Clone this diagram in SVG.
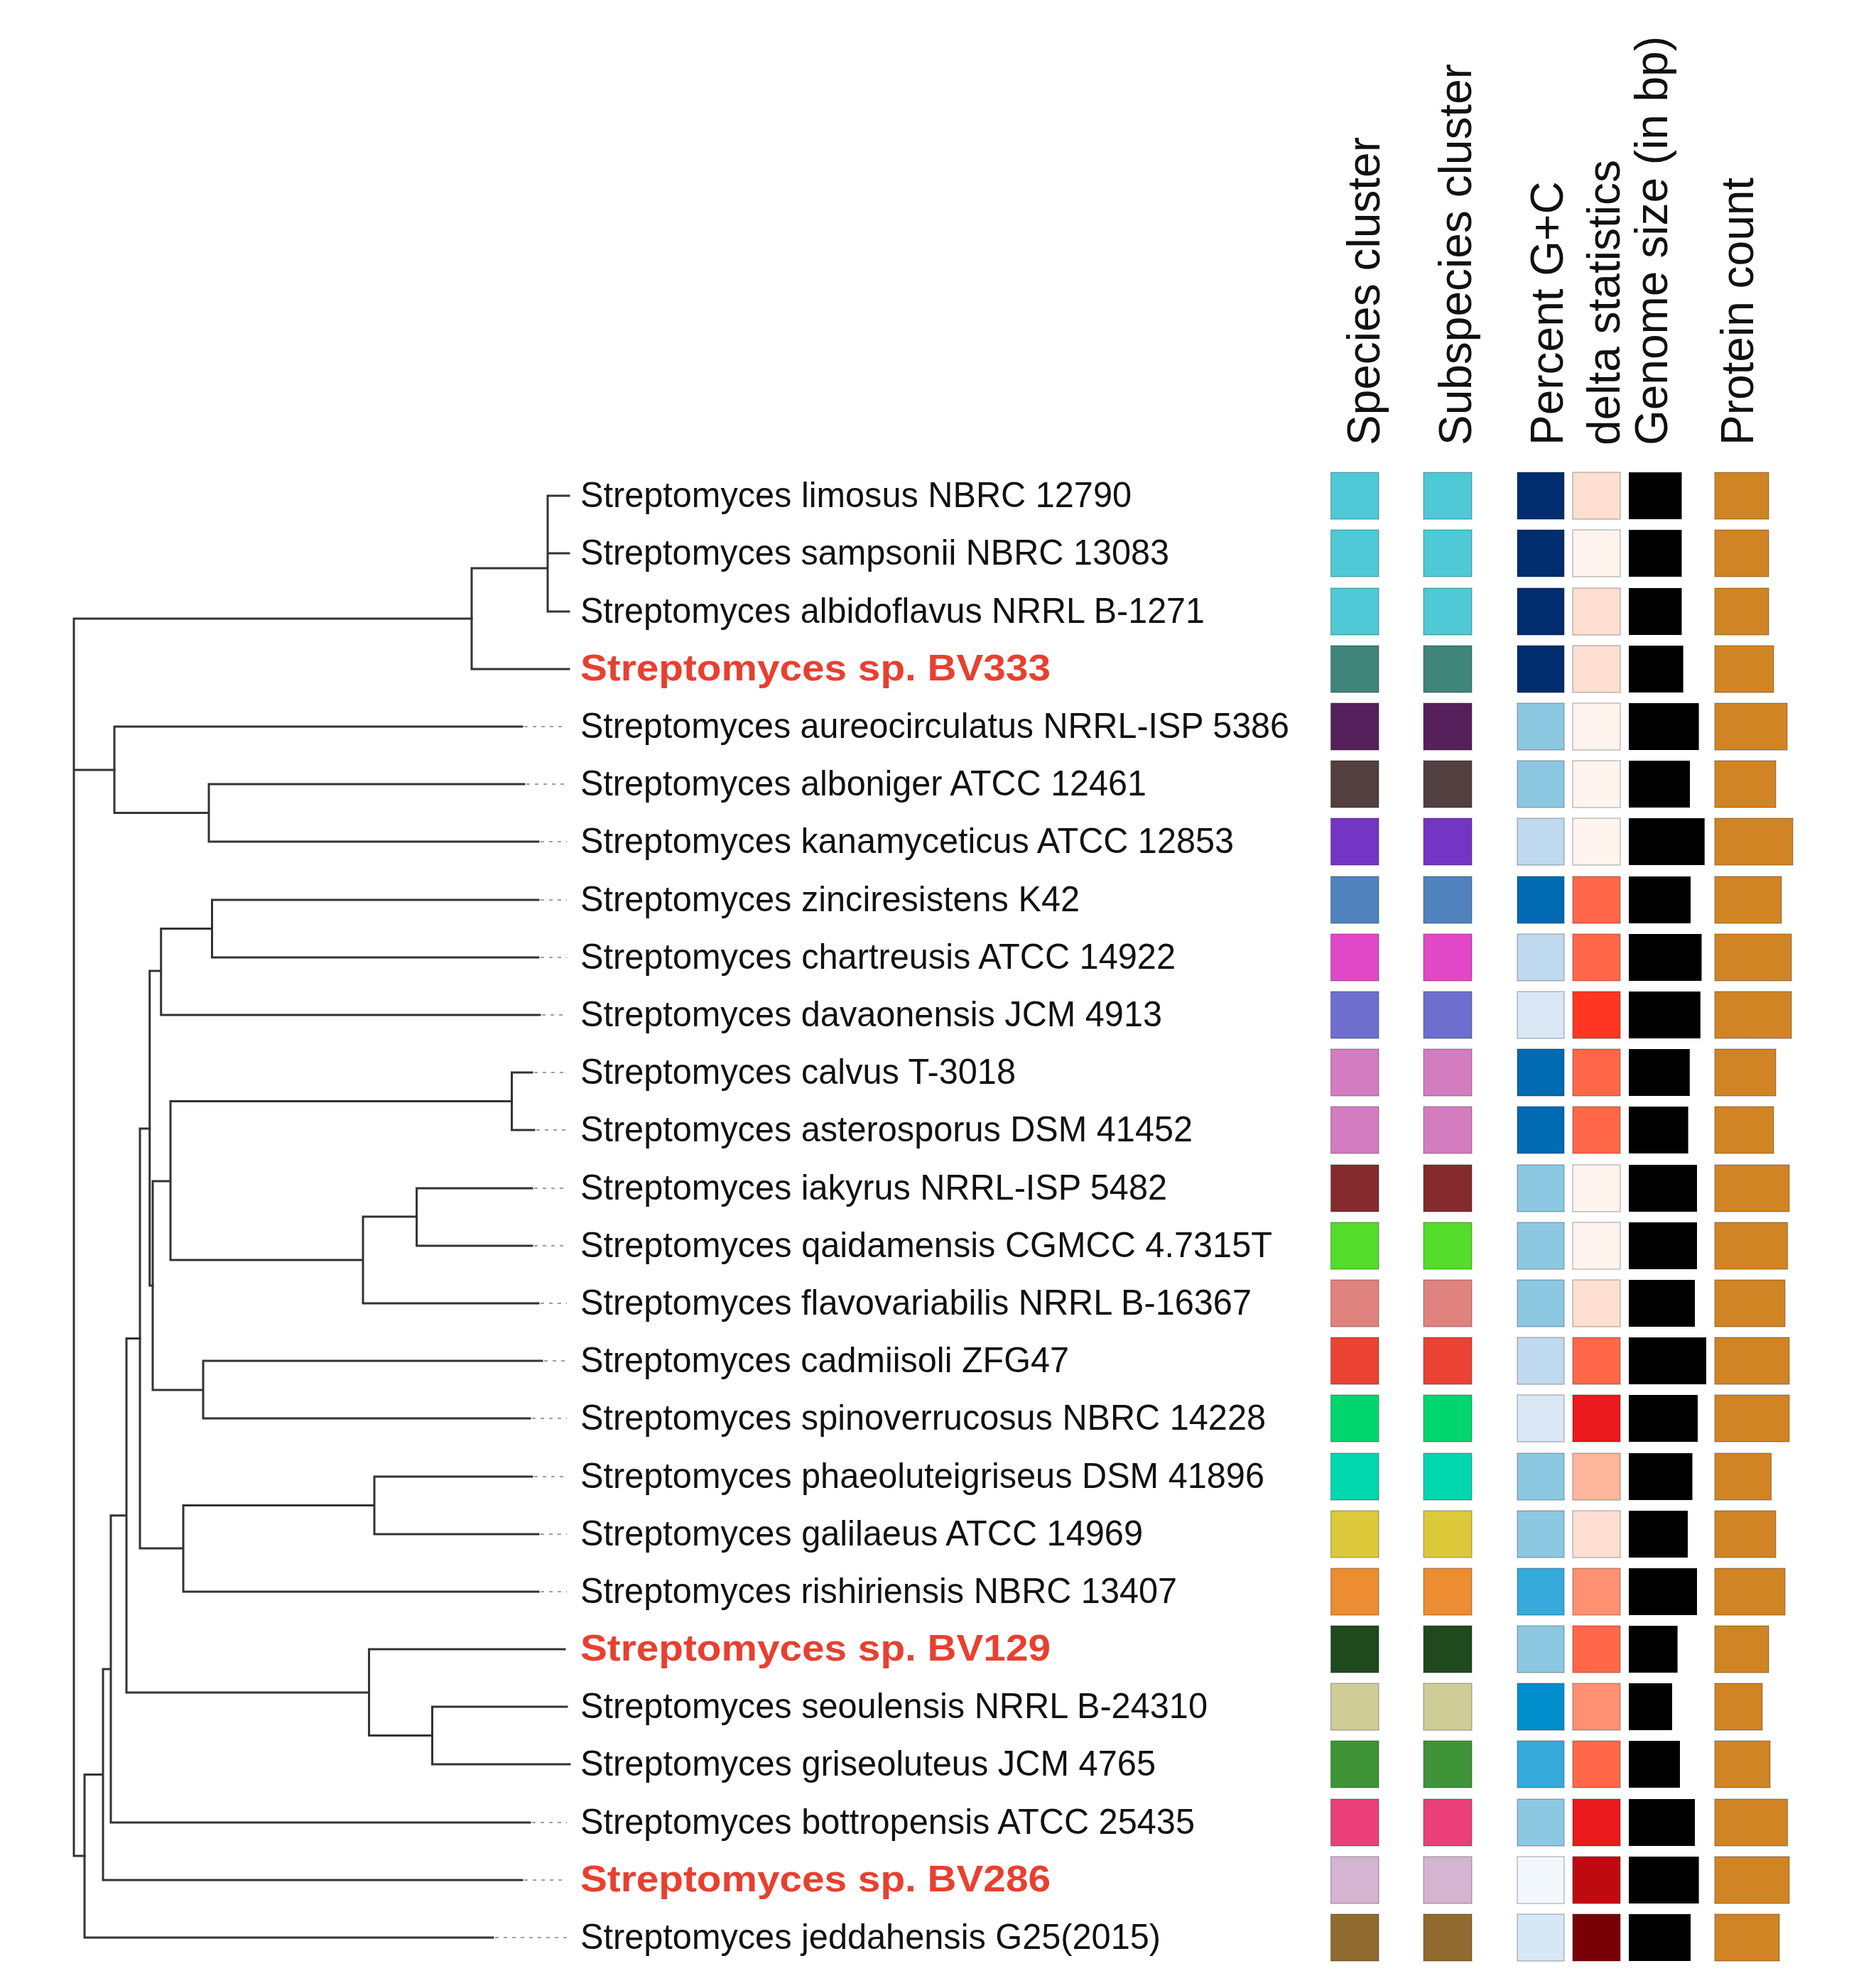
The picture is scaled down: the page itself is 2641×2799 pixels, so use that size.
<svg xmlns="http://www.w3.org/2000/svg" width="2641" height="2799" viewBox="0 0 2641 2799">
<style>
.bg{fill:#ffffff}
.br{stroke:#333;stroke-width:3;fill:none;stroke-linecap:square}
.dt{stroke:#a0a0a0;stroke-width:2;stroke-dasharray:5 7;fill:none}
.lb{font-family:"Liberation Sans",Arial,sans-serif;font-size:50px;fill:#111}
.lr{font-family:"Liberation Sans",Arial,sans-serif;font-size:52px;font-weight:bold;fill:#E8402F}
.hd{font-family:"Liberation Sans",Arial,sans-serif;font-size:64px;fill:#111}
.sq{stroke:#000;stroke-opacity:0.25;stroke-width:1.5}
.gs{fill:#000}
.pc{fill:#D18424}
</style>
<rect class="bg" x="0" y="0" width="2641" height="2799"/>

<g id="headers">
<text class="hd" transform="translate(1942,627) rotate(-90)">Species cluster</text>
<text class="hd" transform="translate(2071,627) rotate(-90)">Subspecies cluster</text>
<text class="hd" transform="translate(2200,627) rotate(-90)">Percent G+C</text>
<text class="hd" transform="translate(2280,627) rotate(-90)">delta statistics</text>
<text class="hd" transform="translate(2347,627) rotate(-90)">Genome size (in bp)</text>
<text class="hd" transform="translate(2468,627) rotate(-90)">Protein count</text>
</g>

<g id="connectors">
<!-- root -->
<path class="br" d="M104 871V2613M104 871H664M104 1084H161M104 2613H119"/>
<!-- clade A -->
<path class="br" d="M664 800V942M664 800H771M664 942H801M771 698V861M771 698H801M771 779H801M771 861H801"/>
<!-- clade B -->
<path class="br" d="M161 1023V1144.5M161 1023H735M161 1144.5H294M294 1104V1185M294 1104H738M294 1185H758"/>
<!-- clade X -->
<path class="br" d="M119 2498.5V2728M119 2728H694M119 2498.5H145M145 2350V2647M145 2647H735M145 2350H156M156 2133.7V2566M156 2566H746M156 2133.7H178M178 1884.5V2383M178 1884.5H197M178 2383H519.5M519.5 2322V2443.5M519.5 2322H795M519.5 2443.5H608.5M608.5 2403V2484M608.5 2403H798M608.5 2484H802"/>
<path class="br" d="M197 1589V2180M197 1589H210.7M197 2180H258M258 2119.5V2241M258 2241H758M258 2119.5H527M527 2079V2160M527 2079H749M527 2160H758"/>
<path class="br" d="M210.7 1367V1810M210.7 1367H226.7M210.7 1810H215M226.7 1307.5V1429M226.7 1429H760M226.7 1307.5H298.5M298.5 1267V1348M298.5 1267H758M298.5 1348H758"/>
<path class="br" d="M215 1663V1957M215 1663H240M215 1957H286M240 1550.5V1774M240 1550.5H720.5M240 1774H511M720.5 1510V1591M720.5 1510H749M720.5 1591H752M511 1713V1835M511 1713H586.6M511 1835H758M586.6 1673V1754M586.6 1673H749M586.6 1754H749M286 1916V1997M286 1916H763M286 1997H746"/>
<!-- dotted leaders -->
<path class="dt" d="M738 1023H798M741 1104H798M761 1185H798M761 1267H798M761 1348H798M763 1429H798M752 1510H798M755 1591H798M752 1673H798M752 1754H798M761 1835H798M766 1916H798M749 1997H798M752 2079H798M761 2160H798M761 2241H798M749 2566H798M738 2647H798M697 2728H798"/>
</g>

<g id="leaves">
<g id="n1"><text class="lb" x="817" y="714" textLength="776" lengthAdjust="spacingAndGlyphs">Streptomyces limosus NBRC 12790</text>
<rect class="sq" x="1873.5" y="665" width="67.5" height="66" fill="#4FC9D6"/><rect class="sq" x="2004" y="665" width="68" height="66" fill="#4FC9D6"/><rect class="sq" x="2136" y="665" width="66" height="66" fill="#002D6E"/><rect class="sq" x="2214" y="665" width="67" height="66" fill="#FEDFD2"/><rect class="gs" x="2293" y="665" width="74.5" height="66"/><rect class="pc sq" x="2414" y="665" width="76" height="66"/></g>

<g id="n2"><text class="lb" x="817" y="795" textLength="829" lengthAdjust="spacingAndGlyphs">Streptomyces sampsonii NBRC 13083</text>
<rect class="sq" x="1873.5" y="746" width="67.5" height="66" fill="#4FC9D6"/><rect class="sq" x="2004" y="746" width="68" height="66" fill="#4FC9D6"/><rect class="sq" x="2136" y="746" width="66" height="66" fill="#002D6E"/><rect class="sq" x="2214" y="746" width="67" height="66" fill="#FFF3EE"/><rect class="gs" x="2293" y="746" width="74.5" height="66"/><rect class="pc sq" x="2414" y="746" width="76" height="66"/></g>

<g id="n3"><text class="lb" x="817" y="877" textLength="879" lengthAdjust="spacingAndGlyphs">Streptomyces albidoflavus NRRL B-1271</text>
<rect class="sq" x="1873.5" y="828" width="67.5" height="66" fill="#4FC9D6"/><rect class="sq" x="2004" y="828" width="68" height="66" fill="#4FC9D6"/><rect class="sq" x="2136" y="828" width="66" height="66" fill="#002D6E"/><rect class="sq" x="2214" y="828" width="67" height="66" fill="#FEDFD2"/><rect class="gs" x="2293" y="828" width="74.5" height="66"/><rect class="pc sq" x="2414" y="828" width="76" height="66"/></g>

<g id="n4"><text class="lr" x="817" y="958" textLength="662" lengthAdjust="spacingAndGlyphs">Streptomyces sp. BV333</text>
<rect class="sq" x="1873.5" y="909" width="67.5" height="66" fill="#3F857A"/><rect class="sq" x="2004" y="909" width="68" height="66" fill="#3F857A"/><rect class="sq" x="2136" y="909" width="66" height="66" fill="#002D6E"/><rect class="sq" x="2214" y="909" width="67" height="66" fill="#FEDFD2"/><rect class="gs" x="2293" y="909" width="76.6" height="66"/><rect class="pc sq" x="2414" y="909" width="83" height="66"/></g>

<g id="n5"><text class="lb" x="817" y="1039" textLength="998" lengthAdjust="spacingAndGlyphs">Streptomyces aureocirculatus NRRL-ISP 5386</text>
<rect class="sq" x="1873.5" y="990" width="67.5" height="66" fill="#55205C"/><rect class="sq" x="2004" y="990" width="68" height="66" fill="#55205C"/><rect class="sq" x="2136" y="990" width="66" height="66" fill="#8CC8E2"/><rect class="sq" x="2214" y="990" width="67" height="66" fill="#FFF4EE"/><rect class="gs" x="2293" y="990" width="98.6" height="66"/><rect class="pc sq" x="2414" y="990" width="102" height="66"/></g>

<g id="n6"><text class="lb" x="817" y="1120" textLength="797" lengthAdjust="spacingAndGlyphs">Streptomyces alboniger ATCC 12461</text>
<rect class="sq" x="1873.5" y="1071" width="67.5" height="66" fill="#523F3F"/><rect class="sq" x="2004" y="1071" width="68" height="66" fill="#523F3F"/><rect class="sq" x="2136" y="1071" width="66" height="66" fill="#8CC8E2"/><rect class="sq" x="2214" y="1071" width="67" height="66" fill="#FFF4EE"/><rect class="gs" x="2293" y="1071" width="86" height="66"/><rect class="pc sq" x="2414" y="1071" width="86" height="66"/></g>

<g id="n7"><text class="lb" x="817" y="1201" textLength="920" lengthAdjust="spacingAndGlyphs">Streptomyces kanamyceticus ATCC 12853</text>
<rect class="sq" x="1873.5" y="1152" width="67.5" height="66" fill="#7535C4"/><rect class="sq" x="2004" y="1152" width="68" height="66" fill="#7535C4"/><rect class="sq" x="2136" y="1152" width="66" height="66" fill="#BFDAEE"/><rect class="sq" x="2214" y="1152" width="67" height="66" fill="#FFF4EE"/><rect class="gs" x="2293" y="1152" width="106.7" height="66"/><rect class="pc sq" x="2414" y="1152" width="110" height="66"/></g>

<g id="n8"><text class="lb" x="817" y="1283" textLength="703" lengthAdjust="spacingAndGlyphs">Streptomyces zinciresistens K42</text>
<rect class="sq" x="1873.5" y="1234" width="67.5" height="66" fill="#5083BE"/><rect class="sq" x="2004" y="1234" width="68" height="66" fill="#5083BE"/><rect class="sq" x="2136" y="1234" width="66" height="66" fill="#006AB2"/><rect class="sq" x="2214" y="1234" width="67" height="66" fill="#FF6748"/><rect class="gs" x="2293" y="1234" width="87" height="66"/><rect class="pc sq" x="2414" y="1234" width="94" height="66"/></g>

<g id="n9"><text class="lb" x="817" y="1364" textLength="838" lengthAdjust="spacingAndGlyphs">Streptomyces chartreusis ATCC 14922</text>
<rect class="sq" x="1873.5" y="1315" width="67.5" height="66" fill="#E048C8"/><rect class="sq" x="2004" y="1315" width="68" height="66" fill="#E048C8"/><rect class="sq" x="2136" y="1315" width="66" height="66" fill="#BFDAEE"/><rect class="sq" x="2214" y="1315" width="67" height="66" fill="#FF6748"/><rect class="gs" x="2293" y="1315" width="102.5" height="66"/><rect class="pc sq" x="2414" y="1315" width="108" height="66"/></g>

<g id="n10"><text class="lb" x="817" y="1445" textLength="819" lengthAdjust="spacingAndGlyphs">Streptomyces davaonensis JCM 4913</text>
<rect class="sq" x="1873.5" y="1396" width="67.5" height="66" fill="#6E6ECF"/><rect class="sq" x="2004" y="1396" width="68" height="66" fill="#6E6ECF"/><rect class="sq" x="2136" y="1396" width="66" height="66" fill="#DAE8F6"/><rect class="sq" x="2214" y="1396" width="67" height="66" fill="#FF3622"/><rect class="gs" x="2293" y="1396" width="100.8" height="66"/><rect class="pc sq" x="2414" y="1396" width="108" height="66"/></g>

<g id="n11"><text class="lb" x="817" y="1526" textLength="613" lengthAdjust="spacingAndGlyphs">Streptomyces calvus T-3018</text>
<rect class="sq" x="1873.5" y="1477" width="67.5" height="66" fill="#D37DC0"/><rect class="sq" x="2004" y="1477" width="68" height="66" fill="#D37DC0"/><rect class="sq" x="2136" y="1477" width="66" height="66" fill="#006AB2"/><rect class="sq" x="2214" y="1477" width="67" height="66" fill="#FF6748"/><rect class="gs" x="2293" y="1477" width="85.8" height="66"/><rect class="pc sq" x="2414" y="1477" width="86" height="66"/></g>

<g id="n12"><text class="lb" x="817" y="1607" textLength="862" lengthAdjust="spacingAndGlyphs">Streptomyces asterosporus DSM 41452</text>
<rect class="sq" x="1873.5" y="1558" width="67.5" height="66" fill="#D37DC0"/><rect class="sq" x="2004" y="1558" width="68" height="66" fill="#D37DC0"/><rect class="sq" x="2136" y="1558" width="66" height="66" fill="#006AB2"/><rect class="sq" x="2214" y="1558" width="67" height="66" fill="#FF6748"/><rect class="gs" x="2293" y="1558" width="83.6" height="66"/><rect class="pc sq" x="2414" y="1558" width="83" height="66"/></g>

<g id="n13"><text class="lb" x="817" y="1689" textLength="826" lengthAdjust="spacingAndGlyphs">Streptomyces iakyrus NRRL-ISP 5482</text>
<rect class="sq" x="1873.5" y="1640" width="67.5" height="66" fill="#862B2D"/><rect class="sq" x="2004" y="1640" width="68" height="66" fill="#862B2D"/><rect class="sq" x="2136" y="1640" width="66" height="66" fill="#8CC8E2"/><rect class="sq" x="2214" y="1640" width="67" height="66" fill="#FFF4EE"/><rect class="gs" x="2293" y="1640" width="96" height="66"/><rect class="pc sq" x="2414" y="1640" width="105" height="66"/></g>

<g id="n14"><text class="lb" x="817" y="1770" textLength="974" lengthAdjust="spacingAndGlyphs">Streptomyces qaidamensis CGMCC 4.7315T</text>
<rect class="sq" x="1873.5" y="1721" width="67.5" height="66" fill="#54DC2A"/><rect class="sq" x="2004" y="1721" width="68" height="66" fill="#54DC2A"/><rect class="sq" x="2136" y="1721" width="66" height="66" fill="#8CC8E2"/><rect class="sq" x="2214" y="1721" width="67" height="66" fill="#FFF4EE"/><rect class="gs" x="2293" y="1721" width="96" height="66"/><rect class="pc sq" x="2414" y="1721" width="102.6" height="66"/></g>

<g id="n15"><text class="lb" x="817" y="1851" textLength="945" lengthAdjust="spacingAndGlyphs">Streptomyces flavovariabilis NRRL B-16367</text>
<rect class="sq" x="1873.5" y="1802" width="67.5" height="66" fill="#E0837E"/><rect class="sq" x="2004" y="1802" width="68" height="66" fill="#E0837E"/><rect class="sq" x="2136" y="1802" width="66" height="66" fill="#8CC8E2"/><rect class="sq" x="2214" y="1802" width="67" height="66" fill="#FEDFD2"/><rect class="gs" x="2293" y="1802" width="93" height="66"/><rect class="pc sq" x="2414" y="1802" width="99" height="66"/></g>

<g id="n16"><text class="lb" x="817" y="1932" textLength="688" lengthAdjust="spacingAndGlyphs">Streptomyces cadmiisoli ZFG47</text>
<rect class="sq" x="1873.5" y="1883" width="67.5" height="66" fill="#EB4333"/><rect class="sq" x="2004" y="1883" width="68" height="66" fill="#EB4333"/><rect class="sq" x="2136" y="1883" width="66" height="66" fill="#BFDAEE"/><rect class="sq" x="2214" y="1883" width="67" height="66" fill="#FF6748"/><rect class="gs" x="2293" y="1883" width="109" height="66"/><rect class="pc sq" x="2414" y="1883" width="105" height="66"/></g>

<g id="n17"><text class="lb" x="817" y="2013" textLength="965" lengthAdjust="spacingAndGlyphs">Streptomyces spinoverrucosus NBRC 14228</text>
<rect class="sq" x="1873.5" y="1964" width="67.5" height="66" fill="#00D66E"/><rect class="sq" x="2004" y="1964" width="68" height="66" fill="#00D66E"/><rect class="sq" x="2136" y="1964" width="66" height="66" fill="#DAE8F6"/><rect class="sq" x="2214" y="1964" width="67" height="66" fill="#EB1A1C"/><rect class="gs" x="2293" y="1964" width="97" height="66"/><rect class="pc sq" x="2414" y="1964" width="105" height="66"/></g>

<g id="n18"><text class="lb" x="817" y="2095" textLength="963" lengthAdjust="spacingAndGlyphs">Streptomyces phaeoluteigriseus DSM 41896</text>
<rect class="sq" x="1873.5" y="2046" width="67.5" height="66" fill="#00D7AE"/><rect class="sq" x="2004" y="2046" width="68" height="66" fill="#00D7AE"/><rect class="sq" x="2136" y="2046" width="66" height="66" fill="#8CC8E2"/><rect class="sq" x="2214" y="2046" width="67" height="66" fill="#FEB69C"/><rect class="gs" x="2293" y="2046" width="89.5" height="66"/><rect class="pc sq" x="2414" y="2046" width="79.6" height="66"/></g>

<g id="n19"><text class="lb" x="817" y="2176" textLength="792" lengthAdjust="spacingAndGlyphs">Streptomyces galilaeus ATCC 14969</text>
<rect class="sq" x="1873.5" y="2127" width="67.5" height="66" fill="#DCC93A"/><rect class="sq" x="2004" y="2127" width="68" height="66" fill="#DCC93A"/><rect class="sq" x="2136" y="2127" width="66" height="66" fill="#8CC8E2"/><rect class="sq" x="2214" y="2127" width="67" height="66" fill="#FEDFD2"/><rect class="gs" x="2293" y="2127" width="83" height="66"/><rect class="pc sq" x="2414" y="2127" width="86" height="66"/></g>

<g id="n20"><text class="lb" x="817" y="2257" textLength="840" lengthAdjust="spacingAndGlyphs">Streptomyces rishiriensis NBRC 13407</text>
<rect class="sq" x="1873.5" y="2208" width="67.5" height="66" fill="#EC8D31"/><rect class="sq" x="2004" y="2208" width="68" height="66" fill="#EC8D31"/><rect class="sq" x="2136" y="2208" width="66" height="66" fill="#36AADA"/><rect class="sq" x="2214" y="2208" width="67" height="66" fill="#FF9072"/><rect class="gs" x="2293" y="2208" width="96" height="66"/><rect class="pc sq" x="2414" y="2208" width="99" height="66"/></g>

<g id="n21"><text class="lr" x="817" y="2338" textLength="662" lengthAdjust="spacingAndGlyphs">Streptomyces sp. BV129</text>
<rect class="sq" x="1873.5" y="2289" width="67.5" height="66" fill="#1E4A1E"/><rect class="sq" x="2004" y="2289" width="68" height="66" fill="#1E4A1E"/><rect class="sq" x="2136" y="2289" width="66" height="66" fill="#8CC8E2"/><rect class="sq" x="2214" y="2289" width="67" height="66" fill="#FF6748"/><rect class="gs" x="2293" y="2289" width="68.6" height="66"/><rect class="pc sq" x="2414" y="2289" width="76" height="66"/></g>

<g id="n22"><text class="lb" x="817" y="2419" textLength="883" lengthAdjust="spacingAndGlyphs">Streptomyces seoulensis NRRL B-24310</text>
<rect class="sq" x="1873.5" y="2370" width="67.5" height="66" fill="#CECD98"/><rect class="sq" x="2004" y="2370" width="68" height="66" fill="#CECD98"/><rect class="sq" x="2136" y="2370" width="66" height="66" fill="#008FCC"/><rect class="sq" x="2214" y="2370" width="67" height="66" fill="#FF9072"/><rect class="gs" x="2293" y="2370" width="61" height="66"/><rect class="pc sq" x="2414" y="2370" width="67" height="66"/></g>

<g id="n23"><text class="lb" x="817" y="2500" textLength="810" lengthAdjust="spacingAndGlyphs">Streptomyces griseoluteus JCM 4765</text>
<rect class="sq" x="1873.5" y="2451" width="67.5" height="66" fill="#3E9436"/><rect class="sq" x="2004" y="2451" width="68" height="66" fill="#3E9436"/><rect class="sq" x="2136" y="2451" width="66" height="66" fill="#36AADA"/><rect class="sq" x="2214" y="2451" width="67" height="66" fill="#FF6748"/><rect class="gs" x="2293" y="2451" width="72" height="66"/><rect class="pc sq" x="2414" y="2451" width="78" height="66"/></g>

<g id="n24"><text class="lb" x="817" y="2582" textLength="865" lengthAdjust="spacingAndGlyphs">Streptomyces bottropensis ATCC 25435</text>
<rect class="sq" x="1873.5" y="2533" width="67.5" height="66" fill="#EA3F79"/><rect class="sq" x="2004" y="2533" width="68" height="66" fill="#EA3F79"/><rect class="sq" x="2136" y="2533" width="66" height="66" fill="#8CC8E2"/><rect class="sq" x="2214" y="2533" width="67" height="66" fill="#EB1A1C"/><rect class="gs" x="2293" y="2533" width="93" height="66"/><rect class="pc sq" x="2414" y="2533" width="102.6" height="66"/></g>

<g id="n25"><text class="lr" x="817" y="2663" textLength="662" lengthAdjust="spacingAndGlyphs">Streptomyces sp. BV286</text>
<rect class="sq" x="1873.5" y="2614" width="67.5" height="66" fill="#D4B4D0"/><rect class="sq" x="2004" y="2614" width="68" height="66" fill="#D4B4D0"/><rect class="sq" x="2136" y="2614" width="66" height="66" fill="#F2F7FC"/><rect class="sq" x="2214" y="2614" width="67" height="66" fill="#C00A12"/><rect class="gs" x="2293" y="2614" width="98.6" height="66"/><rect class="pc sq" x="2414" y="2614" width="105" height="66"/></g>

<g id="n26"><text class="lb" x="817" y="2744" textLength="817" lengthAdjust="spacingAndGlyphs">Streptomyces jeddahensis G25(2015)</text>
<rect class="sq" x="1873.5" y="2695" width="67.5" height="66" fill="#916B30"/><rect class="sq" x="2004" y="2695" width="68" height="66" fill="#916B30"/><rect class="sq" x="2136" y="2695" width="66" height="66" fill="#D6E7F5"/><rect class="sq" x="2214" y="2695" width="67" height="66" fill="#7A0008"/><rect class="gs" x="2293" y="2695" width="87" height="66"/><rect class="pc sq" x="2414" y="2695" width="91" height="66"/></g>
</g>
</svg>
